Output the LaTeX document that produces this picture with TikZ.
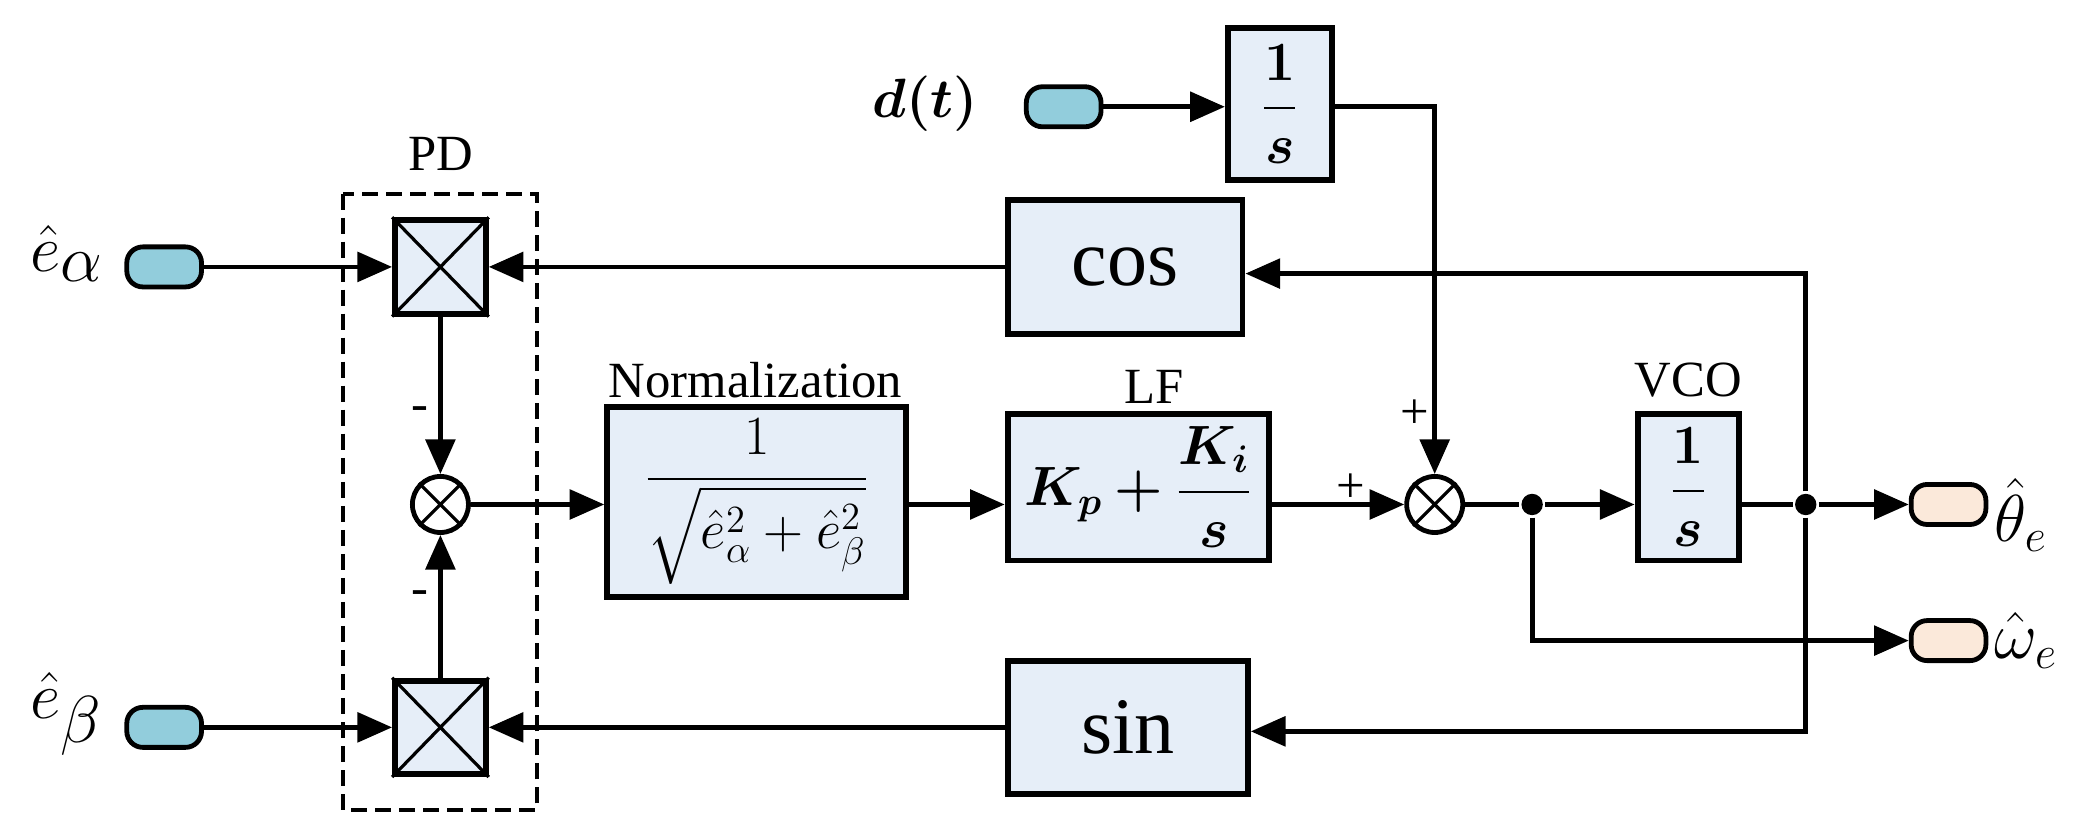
\documentclass[tikz,border=0pt]{standalone}
\usepackage{amsmath,amssymb,bm}
\usepackage{fontspec}
\setmainfont{Liberation Serif}
\usetikzlibrary{arrows.meta}
\definecolor{bfill}{HTML}{E6EEF8}
\definecolor{cy}{HTML}{92CDDC}
\definecolor{pe}{HTML}{FBE9DA}
\begin{document}
\begin{tikzpicture}[x=0.5pt,y=-0.5pt,
  line width=1.8pt,
  blk/.style={draw,fill=bfill,line width=2.2pt,inner sep=0pt,font=\fontsize{20}{22}\selectfont},
  pill/.style={draw,line width=1.8pt,rounded corners=6pt,minimum width=28pt,minimum height=15pt,inner sep=0pt},
  sum/.style={draw,circle,line width=1.8pt,minimum size=21pt,inner sep=0pt},
  mul/.style={draw,fill=bfill,line width=2.2pt,minimum width=34pt,minimum height=35pt,inner sep=0pt},
  ar/.style={-{Triangle[length=13pt,width=11pt]}},
  lbl/.style={font=\fontsize{19}{20}\selectfont},
  dot/.style={circle,fill,inner sep=0pt,minimum size=8pt}]
\useasboundingbox (0,0) rectangle (1560,624);
% PD box
\draw[dashed,line width=1.5pt,dash pattern=on 6pt off 3pt] (257,145) rectangle (402,607);
\node[lbl] (pdl) at (330,115) {PD};
% multipliers
\node[mul] (m1) at (330,200) {};
\draw[line width=1.2pt] (m1.north west)--(m1.south east) (m1.north east)--(m1.south west);
\node[mul] (m2) at (330,545) {};
\draw[line width=1.2pt] (m2.north west)--(m2.south east) (m2.north east)--(m2.south west);
\node[sum] (s1) at (330,378) {};
\draw[line width=1.2pt] (s1.north west)--(s1.south east) (s1.north east)--(s1.south west);
% inputs
\node[pill,fill=cy] (pa) at (123,200) {};
\node[pill,fill=cy] (pb) at (123,545) {};
\node[font=\fontsize{38}{40}\selectfont] (ea) at (50,190) {$\hat{e}_{\alpha}$};
\node[font=\fontsize{38}{40}\selectfont] (eb) at (50,535) {$\hat{e}_{\beta}$};
\draw[ar] (pa) -- (m1);
\draw[ar] (pb) -- (m2);
\draw[ar] (m1) -- (s1);
\draw[ar] (m2) -- (s1);
\node[lbl] at (315,310) {-};
\node[lbl] at (315,448) {-};
% d(t)
\node[pill,fill=cy] (pd) at (797,80) {};
\node[font=\fontsize{22}{24}\selectfont] (dt) at (693,78) {$\bm{d(t)}$};
\node[blk,minimum width=39pt,minimum height=57pt] (i1) at (959,78) {$\bm{\dfrac{1}{s}}$};
\draw[ar] (pd) -- (i1.west |- pd);
% cos sin
\node[blk,minimum width=88pt,minimum height=50pt,font=\fontsize{30}{32}\selectfont] (cos) at (843,200) {cos};
\node[blk,minimum width=90pt,minimum height=50pt,font=\fontsize{30}{32}\selectfont] (sin) at (845,545) {sin};
\draw[ar] (cos) -- (m1);
\draw[ar] (sin) -- (m2);
% normalization
\node[blk,minimum width=112pt,minimum height=71pt] (nm) at (567,376) {$\dfrac{1}{\sqrt{\hat{e}_{\alpha}^{2}+\hat{e}_{\beta}^{2}}}$};
\node[lbl] at (566,285) {Normalization};
\node[blk,minimum width=98pt,minimum height=55pt] (lf) at (853,365) {$\bm{K_p+\dfrac{K_i}{s}}$};
\node[lbl] at (865,290) {LF};
\node[sum] (s2) at (1075,378) {};
\draw[line width=1.2pt] (s2.north west)--(s2.south east) (s2.north east)--(s2.south west);
\draw[ar] (s1) -- (nm.west |- s1);
\draw[ar] (nm.east |- s1) -- (lf.west |- s1);
\draw[ar] (lf.east |- s2) -- (s2);
\node[lbl] at (1012,366) {+};
\node[lbl] at (1060,310) {+};
\coordinate (c1) at (1075,80);
\draw[ar] (i1.east |- c1) -- (c1) -- (s2);
% VCO
\node[blk,minimum width=38pt,minimum height=55pt] (vco) at (1265,365) {$\bm{\dfrac{1}{s}}$};
\node[lbl] at (1265,285) {VCO};
\node[dot] (d1) at (1148,378) {};
\node[dot] (d2) at (1353,378) {};
\draw (s2) -- (d1);
\draw[ar] (d1) -- (vco.west |- d1);
\draw (vco.east |- d2) -- (d2);
\node[pill,fill=pe] (pt) at (1460,378) {};
\node[pill,fill=pe] (pw) at (1460,480) {};
\draw[ar] (d2) -- (pt);
\coordinate (c2) at (1148,480);
\draw[ar] (d1) -- (c2) -- (pw);
\node[font=\fontsize{26}{28}\selectfont,anchor=west] at (1486,386) {$\hat{\theta}_e$};
\node[font=\fontsize{26}{28}\selectfont,anchor=west] at (1486,480) {$\hat{\omega}_e$};
% feedback
\coordinate (c3) at (1353,205);
\coordinate (c4) at (1353,548);
\draw[ar] (d2) -- (c3) -- (cos.east |- c3);
\draw[ar] (d2) -- (c4) -- (sin.east |- c4);
\end{tikzpicture}
\end{document}
